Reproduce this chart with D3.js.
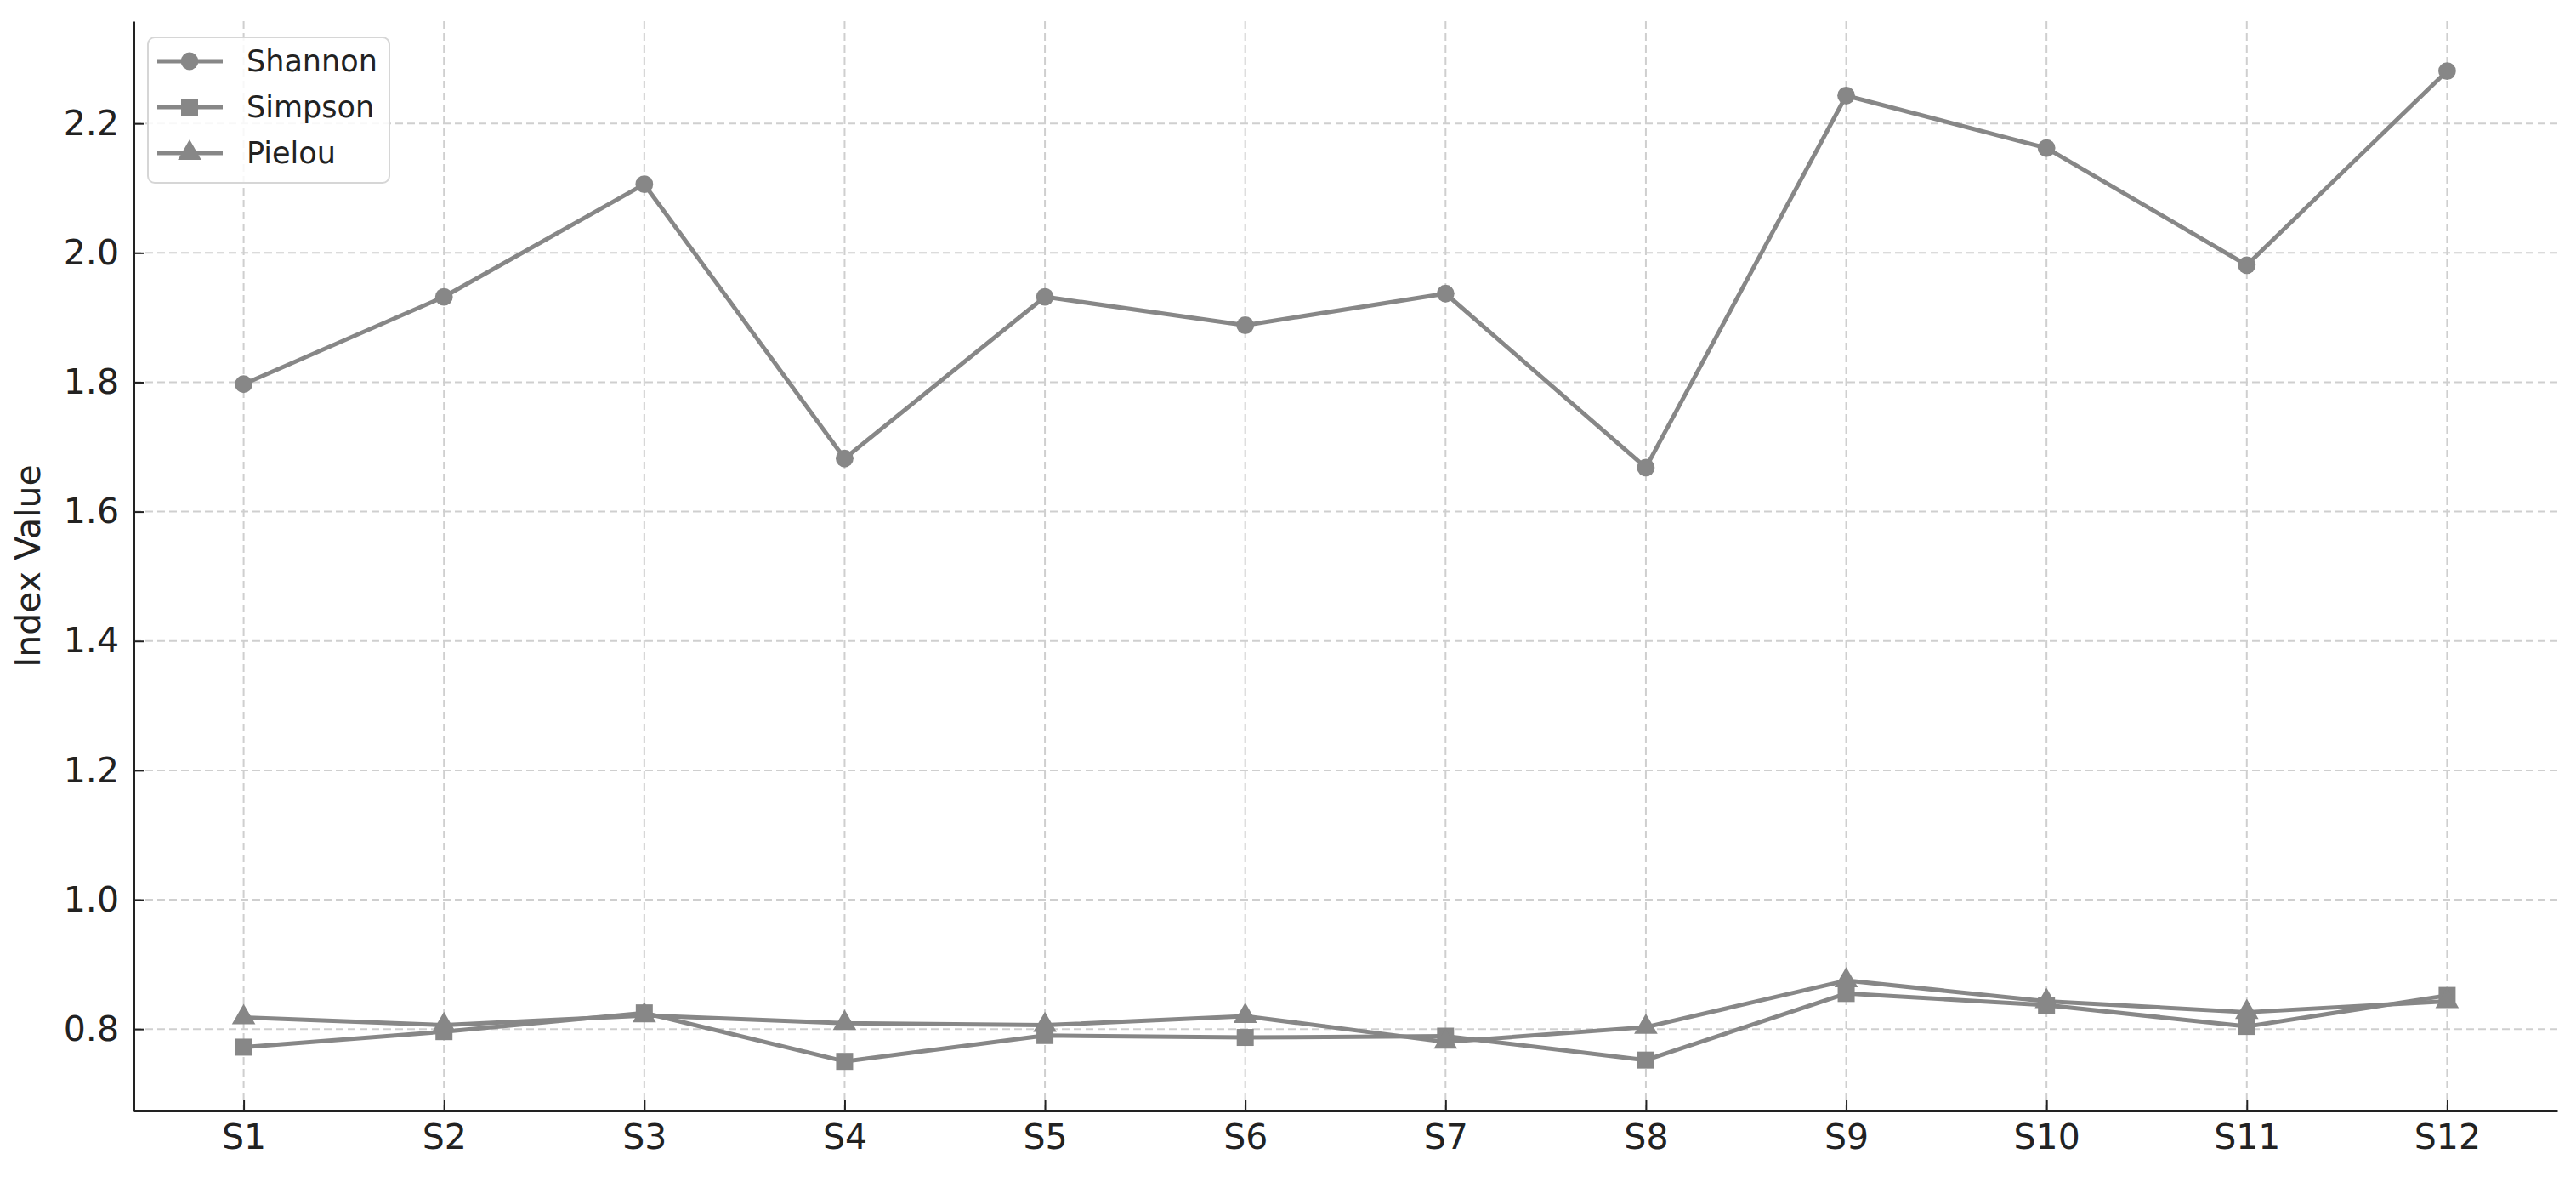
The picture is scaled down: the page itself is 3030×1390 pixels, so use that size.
<!DOCTYPE html>
<html>
<head>
<meta charset="utf-8">
<script src="https://cdn.jsdelivr.net/npm/d3@7"></script>
<style>
  body { margin: 0; background: #fff; }
  text { font-family: 'DejaVu Sans', sans-serif; }
</style>
</head>
<body>
<script>
// data
var sites = ['S1', 'S2', 'S3', 'S4', 'S5', 'S6', 'S7', 'S8', 'S9', 'S10', 'S11', 'S12']
var shannon = [1.797, 1.932, 2.106, 1.682, 1.932, 1.888, 1.937, 1.668, 2.243, 2.162, 1.981, 2.281]
var simpson = [0.772, 0.796, 0.825, 0.750, 0.790, 0.787, 0.789, 0.752, 0.855, 0.837, 0.804, 0.852]
var pielou = [0.818, 0.806, 0.821, 0.809, 0.806, 0.820, 0.780, 0.803, 0.875, 0.843, 0.826, 0.843]
var yTicks = [0.8, 1.0, 1.2, 1.4, 1.6, 1.8, 2.0, 2.2]

var series = [
  { name: 'Shannon', values: shannon, symbol: d3.symbolCircle },
  { name: 'Simpson', values: simpson, symbol: d3.symbolSquare },
  { name: 'Pielou', values: pielou, symbol: d3.symbolTriangle }
]

var W = 3030
var H = 1390
var margin = { top: 25, right: 22, bottom: 84, left: 157 }
var width = W - margin.left - margin.right
var height = H - margin.top - margin.bottom
var grey = '#878787'

function markerSize (sym) {
  if (sym === d3.symbolTriangle) return 330
  if (sym === d3.symbolSquare) return 400
  return 340
}

var svg = d3.select('body').append('svg')
  .attr('width', W)
  .attr('height', H)
var g = svg.append('g')
  .attr('transform', 'translate(' + margin.left + ',' + margin.top + ')')

var x = d3.scaleLinear().domain([-0.55, sites.length - 1 + 0.55]).range([0, width])
var y = d3.scaleLinear().domain([0.674, 2.358]).range([height, 0])

// grid
g.append('g').selectAll('line').data(yTicks).join('line')
  .attr('x1', 0).attr('x2', width)
  .attr('y1', function (d) { return y(d) }).attr('y2', function (d) { return y(d) })
  .attr('stroke', '#cfcfcf').attr('stroke-width', 2).attr('stroke-dasharray', '9,5')
g.append('g').selectAll('line').data(sites).join('line')
  .attr('x1', function (d, i) { return x(i) }).attr('x2', function (d, i) { return x(i) })
  .attr('y1', 0).attr('y2', height)
  .attr('stroke', '#cfcfcf').attr('stroke-width', 2).attr('stroke-dasharray', '9,5')

// axes (ticks point inward)
var xAxis = g.append('g')
  .attr('transform', 'translate(0,' + height + ')')
  .call(d3.axisBottom(x).tickValues(d3.range(sites.length))
    .tickFormat(function (i) { return sites[i] })
    .tickSizeInner(-12).tickSizeOuter(0).tickPadding(16))
var yAxis = g.append('g')
  .call(d3.axisLeft(y).tickValues(yTicks)
    .tickFormat(d3.format('.1f'))
    .tickSizeInner(-12).tickSizeOuter(0).tickPadding(17))

;[xAxis, yAxis].forEach(function (a) {
  a.select('.domain').attr('stroke', '#222').attr('stroke-width', 3)
  a.selectAll('.tick line').attr('stroke', '#222').attr('stroke-width', 2)
  a.selectAll('.tick text').attr('font-size', 41).attr('fill', '#222')
    .style('font-family', "'DejaVu Sans', sans-serif")
})

svg.append('text')
  .attr('transform', 'translate(36,' + (margin.top + height / 2) + ') rotate(-90)')
  .attr('text-anchor', 'middle')
  .attr('dominant-baseline', 'middle')
  .attr('font-size', 41)
  .attr('fill', '#222')
  .text('Index Value')

// lines + markers
var line = d3.line()
  .x(function (d, i) { return x(i) })
  .y(function (d) { return y(d) })

series.forEach(function (s) {
  g.append('path')
    .datum(s.values)
    .attr('fill', 'none')
    .attr('stroke', grey)
    .attr('stroke-width', 5)
    .attr('stroke-linejoin', 'round')
    .attr('d', line)
  g.append('g').selectAll('path').data(s.values).join('path')
    .attr('transform', function (d, i) { return 'translate(' + x(i) + ',' + y(d) + ')' })
    .attr('d', d3.symbol().type(s.symbol).size(markerSize(s.symbol)))
    .attr('fill', grey)
})

// legend
var leg = svg.append('g').attr('transform', 'translate(174,44)')
leg.append('rect')
  .attr('width', 284).attr('height', 171)
  .attr('rx', 8)
  .attr('fill', 'rgba(255,255,255,0.85)')
  .attr('stroke', '#d6d6d6').attr('stroke-width', 2)
series.forEach(function (s, i) {
  var row = leg.append('g').attr('transform', 'translate(0,' + (28 + i * 54) + ')')
  row.append('line')
    .attr('x1', 11).attr('x2', 88)
    .attr('stroke', grey).attr('stroke-width', 5)
  row.append('path')
    .attr('transform', 'translate(49,0)')
    .attr('d', d3.symbol().type(s.symbol).size(markerSize(s.symbol)))
    .attr('fill', grey)
  row.append('text')
    .attr('x', 116).attr('y', 0)
    .attr('dominant-baseline', 'central')
    .attr('font-size', 35)
    .attr('fill', '#222')
    .text(s.name)
})
</script>
</body>
</html>
